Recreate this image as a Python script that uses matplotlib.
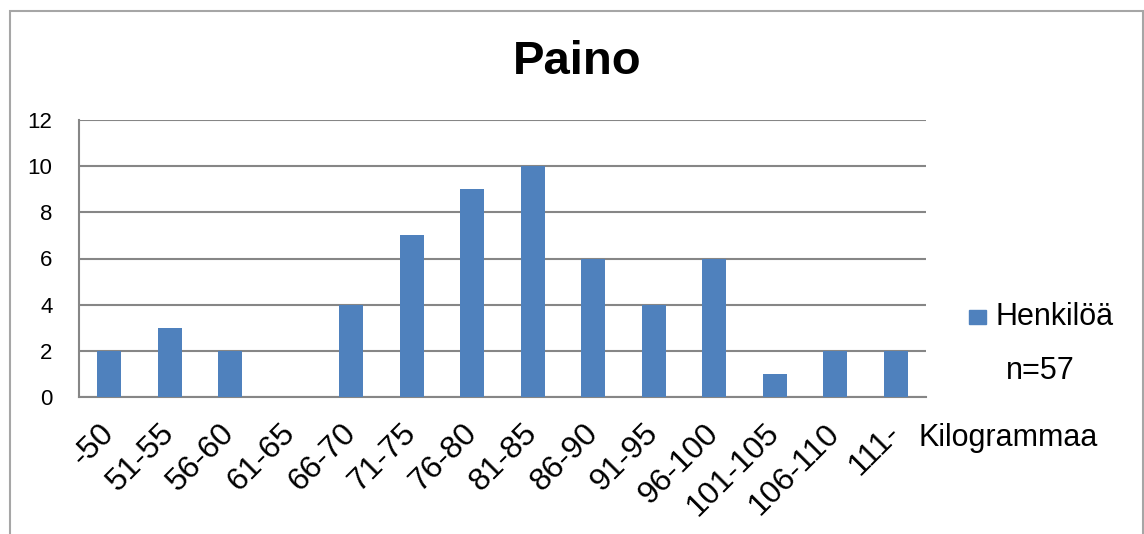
import matplotlib
matplotlib.use('Agg')
from matplotlib import pyplot as plt
from matplotlib.patches import Rectangle
import numpy as np

categories = ['-50', '51-55', '56-60', '61-65', '66-70', '71-75', '76-80',
              '81-85', '86-90', '91-95', '96-100', '101-105', '106-110', '111-']
henkiloa = [2, 3, 2, 0, 4, 7, 9, 10, 6, 4, 6, 1, 2, 2]

plt.rcParams['font.family'] = ['Liberation Sans', 'DejaVu Sans']

W, H = 1144, 534
fig = plt.figure(figsize=(W / 100, H / 100), dpi=100)
fig.patch.set_facecolor('white')

# outer chart frame
fig.add_artist(Rectangle((10 / W, -0.1), 1133 / W, 1.1 - 11 / H,
                         transform=fig.transFigure, fill=False,
                         edgecolor='#a6a6a6', linewidth=1.5))

ax = fig.add_axes([79 / W, 1 - 397 / H, 847 / W, 277 / H])
x = np.arange(len(categories))
ax.bar(x, henkiloa, width=0.4, color='#4f81bd', zorder=3, label='Henkilöä')
ax.set_xlim(-0.5, len(categories) - 0.5)
ax.set_ylim(0, 12)
ax.set_yticks(range(0, 13, 2))
ax.yaxis.grid(True, color='#868686', linewidth=1.5)
ax.set_axisbelow(True)
for s in ['top', 'right']:
    ax.spines[s].set_visible(False)
for s in ['left', 'bottom']:
    ax.spines[s].set_color('#868686')
    ax.spines[s].set_linewidth(1.5)
ax.tick_params(axis='both', length=0)
ax.tick_params(axis='y', labelsize=16, pad=19)
ax.set_xticks(x)
ax.set_xticklabels(categories, rotation=45, ha='right', va='center',
                   rotation_mode='anchor', fontsize=23)
ax.tick_params(axis='x', pad=23)

fig.text(577 / W, 1 - 62 / H, 'Paino', fontsize=34,
         fontweight='bold', ha='center', va='center')

# legend-like entries
fig.add_artist(Rectangle((969 / W, 1 - 324 / H), 17 / W, 14 / H,
                         transform=fig.transFigure, color='#4f81bd'))
fig.text(995 / W, 1 - 317 / H, 'Henkilöä', fontsize=22, va='center', ha='left')
fig.text(1040 / W, 1 - 371 / H, 'n=57', fontsize=22, va='center', ha='center')
fig.text(1008 / W, 1 - 438 / H, 'Kilogrammaa', fontsize=22, va='center', ha='center')

plt.savefig('out.png', dpi=100)
plt.close()
